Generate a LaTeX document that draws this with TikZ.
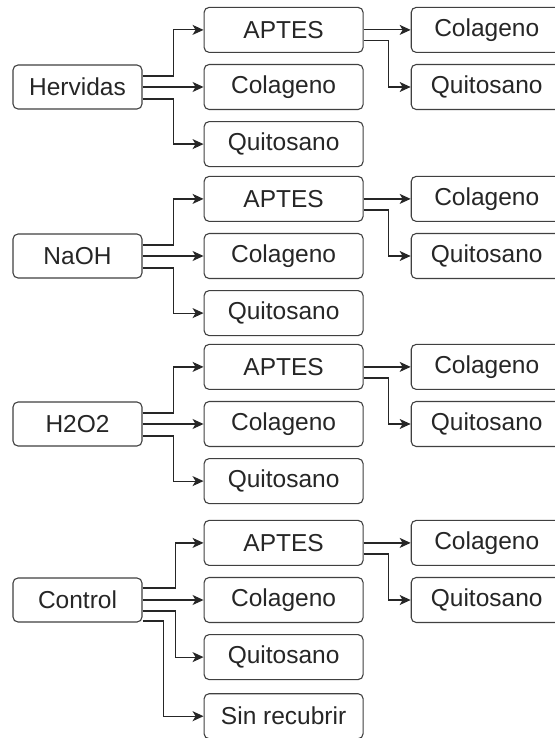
\documentclass[tikz,border=0pt]{standalone}
\usepackage{fontspec}
\setmainfont{Liberation Sans}
\usepackage{tikz}
\usetikzlibrary{positioning, arrows.meta}
\tikzset{
  trat/.style={rectangle, rounded corners=5pt, minimum width=129pt, minimum height=44pt, text centered, draw=black!75, line width=1.1pt, fill=white, text=black!85},
  recub/.style={rectangle, rounded corners=5pt, minimum width=159pt, minimum height=45pt, text centered, draw=black!75, line width=1.1pt, fill=white, text=black!85},
  recub2/.style={recub, minimum width=151pt},
  flecha/.style={line width=1.2pt, draw=black!85, -{Stealth[length=11pt, width=10pt, inset=3pt]}}
}

\begin{document}
\begin{tikzpicture}[x=1pt, y=-1pt, node distance=11pt, every node/.style={font=\fontsize{24.5}{27}\selectfont}]
        \useasboundingbox (0,0) rectangle (554,738);

        % Hervidas
        \node (trat1) [trat] at (77.5,87) {Hervidas};
        \node (col1) [recub, right=61pt of trat1] {Colageno};
        \node (apt1) [recub, above=of col1] {APTES};
        \node (qui1) [recub, below=of col1] {Quitosano};
        \node (acol1) [recub2, right=47pt of apt1] {Colageno};
        \node (aqui1) [recub2, below=of acol1] {Quitosano};

        \draw [flecha] ([yshift=11pt]trat1.east) -- ++(31,0) |- (apt1.west);
        \draw [flecha] (trat1.east) -- (col1.west);
        \draw [flecha] ([yshift=-12pt]trat1.east) -- ++(31,0) |- (qui1.west);
        \draw [flecha] (apt1.east) -- (acol1.west);
        \draw [flecha] ([yshift=-11pt]apt1.east) -- ++(25,0) |- (aqui1.west);

        % NaOH
        \node (trat2) [trat] at (77.5,256) {NaOH};
        \node (col2) [recub, right=61pt of trat2] {Colageno};
        \node (apt2) [recub, above=of col2] {APTES};
        \node (qui2) [recub, below=of col2] {Quitosano};
        \node (acol2) [recub2, right=47pt of apt2] {Colageno};
        \node (aqui2) [recub2, below=of acol2] {Quitosano};

        \draw [flecha] ([yshift=11pt]trat2.east) -- ++(31,0) |- (apt2.west);
        \draw [flecha] (trat2.east) -- (col2.west);
        \draw [flecha] ([yshift=-12pt]trat2.east) -- ++(31,0) |- (qui2.west);
        \draw [flecha] (apt2.east) -- (acol2.west);
        \draw [flecha] ([yshift=-11pt]apt2.east) -- ++(25,0) |- (aqui2.west);

        % H2O2
        \node (trat3) [trat] at (77.5,424) {H2O2};
        \node (col3) [recub, right=61pt of trat3] {Colageno};
        \node (apt3) [recub, above=of col3] {APTES};
        \node (qui3) [recub, below=of col3] {Quitosano};
        \node (acol3) [recub2, right=47pt of apt3] {Colageno};
        \node (aqui3) [recub2, below=of acol3] {Quitosano};

        \draw [flecha] ([yshift=11pt]trat3.east) -- ++(31,0) |- (apt3.west);
        \draw [flecha] (trat3.east) -- (col3.west);
        \draw [flecha] ([yshift=-12pt]trat3.east) -- ++(31,0) |- (qui3.west);
        \draw [flecha] (apt3.east) -- (acol3.west);
        \draw [flecha] ([yshift=-11pt]apt3.east) -- ++(25,0) |- (aqui3.west);

        % Control, con la rama extra sin recubrir
        \node (trat4) [trat] at (77.5,600) {Control};
        \node (col4) [recub, right=61pt of trat4] {Colageno};
        \node (apt4) [recub, above=of col4] {APTES};
        \node (qui4) [recub, below=of col4] {Quitosano};
        \node (sinr4) [recub, below=13pt of qui4] {Sin recubrir};
        \node (acol4) [recub2, right=47pt of apt4] {Colageno};
        \node (aqui4) [recub2, below=of acol4] {Quitosano};

        \draw [flecha] ([yshift=12pt]trat4.east) -- ++(33,0) |- (apt4.west);
        \draw [flecha] (trat4.east) -- (col4.west);
        \draw [flecha] ([yshift=-11pt]trat4.east) -- ++(33,0) |- (qui4.west);
        \draw [flecha] ([yshift=-21pt]trat4.east) -- ++(21,0) |- (sinr4.west);
        \draw [flecha] (apt4.east) -- (acol4.west);
        \draw [flecha] ([yshift=-11pt]apt4.east) -- ++(25,0) |- (aqui4.west);
    \end{tikzpicture}
\end{document}
